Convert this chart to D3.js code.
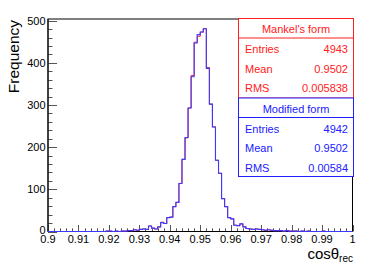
<!DOCTYPE html>
<html>
<head>
<meta charset="utf-8">
<script src="https://cdn.jsdelivr.net/npm/d3@7"></script>
<style>
  body { margin: 0; background: #fff; }
  svg { display: block; font-family: "Liberation Sans", Arial, sans-serif; }
</style>
</head>
<body>
<svg id="chart" width="382" height="266"></svg>
<script>
// ---- Data ----
const binStart = 0.9;
const binWidth = 0.001;
const mankel = [
  0,0,0,0,0,0,0,0,0,0,
  0,0,0,0,0,0,0,0,0,1,
  1,0,1,0,1,1,2,2,4,3,
  5,6,5,13,8,6,11,22,19,33,
  34,59,69,114,171,222,293,370,449,463,
  473,481,389,302,248,169,138,78,59,33,
  30,15,14,18,11,7,6,5,6,5,
  4,3,4,3,2,2,2,1,2,1,
  1,1,0,1,0,1,0,0,0,0,
  1,0,0,0,0,0,0,0,0,0
];
const modified = [
  0,0,0,0,0,0,0,0,0,0,
  0,0,0,0,0,0,0,0,0,1,
  1,0,1,0,1,1,2,2,4,3,
  5,6,5,13,8,6,11,21,19,33,
  34,59,69,114,171,223,293,367,447,467,
  473,481,387,302,248,169,138,78,59,33,
  30,15,14,18,11,7,6,5,6,5,
  4,3,4,3,2,2,2,1,2,1,
  1,1,0,1,0,1,0,0,0,0,
  1,0,0,0,0,0,0,0,0,0
];
const xTicks = [0.9,0.91,0.92,0.93,0.94,0.95,0.96,0.97,0.98,0.99,1];
const xTickLabels = ["0.9","0.91","0.92","0.93","0.94","0.95","0.96","0.97","0.98","0.99","1"];
const yTicks = [0,100,200,300,400,500];
const statsMankel = { title: "Mankel's form", rows: [["Entries","4943"],["Mean","0.9502"],["RMS","0.005838"]] };
const statsModified = { title: "Modified form", rows: [["Entries","4942"],["Mean","0.9502"],["RMS","0.00584"]] };

// ---- Layout ----
const L = 48, R = 352.5, T = 19, B = 231.5;
const svg = d3.select("#chart");
const x = d3.scaleLinear().domain([0.9, 1.0]).range([L, R]);
const y = d3.scaleLinear().domain([0, 504]).range([B, T]);

// frame
svg.append("rect").attr("x", L).attr("y", T).attr("width", R - L).attr("height", B - T)
  .attr("fill", "none").attr("stroke", "#000").attr("stroke-width", 1);

// y axis ticks
const yMinor = d3.range(0, 504, 20);
svg.append("g").selectAll("line").data(yMinor).join("line")
  .attr("x1", L).attr("x2", d => L + (d % 100 === 0 ? 9 : 4.5))
  .attr("y1", d => Math.round(y(d)) + 0.5).attr("y2", d => Math.round(y(d)) + 0.5)
  .attr("stroke", "#555").attr("stroke-width", 1);
svg.append("g").selectAll("text").data(yTicks).join("text")
  .attr("x", 45.5).attr("y", d => y(d) - (d === 0 ? 1 : 0)).attr("dy", "0.36em")
  .attr("text-anchor", "end").attr("font-size", 11).attr("fill", "#000")
  .text(d => d);

// x axis ticks
const xMinor = d3.range(0, 51).map(i => 0.9 + i * 0.002);
svg.append("g").selectAll("line").data(xMinor).join("line")
  .attr("x1", d => Math.round(x(d)) + 0.5).attr("x2", d => Math.round(x(d)) + 0.5)
  .attr("y1", B).attr("y2", (d, i) => B - (i % 5 === 0 ? 6.5 : 3.2))
  .attr("stroke", "#555").attr("stroke-width", 1);
svg.append("g").selectAll("text").data(xTicks).join("text")
  .attr("x", d => x(d)).attr("y", 243)
  .attr("text-anchor", "middle").attr("font-size", 11).attr("fill", "#000")
  .text((d, i) => xTickLabels[i]);

// axis lines
svg.append("line").attr("x1", L).attr("x2", L).attr("y1", T).attr("y2", B).attr("stroke", "#000");
svg.append("line").attr("x1", L).attr("x2", R).attr("y1", B).attr("y2", B).attr("stroke", "#000");

// titles
svg.append("text").attr("transform", `translate(18.5,${T + 1}) rotate(-90)`)
  .attr("text-anchor", "end").attr("font-size", 15.5).attr("fill", "#000").text("Frequency");
const xt = svg.append("text").attr("x", 353).attr("y", 259).attr("text-anchor", "end")
  .attr("font-size", 15).attr("fill", "#000");
xt.append("tspan").text("cosθ");
xt.append("tspan").attr("font-size", 10).attr("dy", 3).text("rec");

// histograms
function histPath(vals) {
  const pts = vals.map((v, i) => [binStart + i * binWidth, v]);
  pts.push([binStart + vals.length * binWidth, vals[vals.length - 1]]);
  return d3.line().x(d => x(d[0])).y(d => y(d[1])).curve(d3.curveStepAfter)(pts);
}
svg.append("path").attr("d", histPath(mankel)).attr("fill", "none")
  .attr("stroke", "#ff2020").attr("stroke-width", 1);
svg.append("path").attr("d", histPath(modified)).attr("fill", "none")
  .attr("stroke", "#3a3aff").attr("stroke-width", 1.1);

// stats boxes
function statsBox(stats, top, h, color) {
  const bx = 238.5, bw = 115;
  const g = svg.append("g");
  g.append("rect").attr("x", bx).attr("y", top).attr("width", bw).attr("height", h)
    .attr("fill", "#fff").attr("stroke", color).attr("stroke-width", 1);
  g.append("line").attr("x1", bx).attr("x2", bx + bw).attr("y1", top + 19.5).attr("y2", top + 19.5)
    .attr("stroke", color);
  g.append("text").attr("x", bx + bw / 2).attr("y", top + 14.5).attr("text-anchor", "middle")
    .attr("font-size", 11).attr("fill", color).text(stats.title);
  stats.rows.forEach((r, i) => {
    const yy = top + 34.5 + i * 19.5;
    g.append("text").attr("x", bx + 6.5).attr("y", yy).attr("font-size", 11).attr("fill", color).text(r[0]);
    g.append("text").attr("x", bx + bw - 5.5).attr("y", yy).attr("text-anchor", "end")
      .attr("font-size", 11).attr("fill", color).text(r[1]);
  });
}
statsBox(statsMankel, 18.5, 79.5, "#ff2020");
statsBox(statsModified, 98, 78.5, "#2020ff");
</script>
</body>
</html>
